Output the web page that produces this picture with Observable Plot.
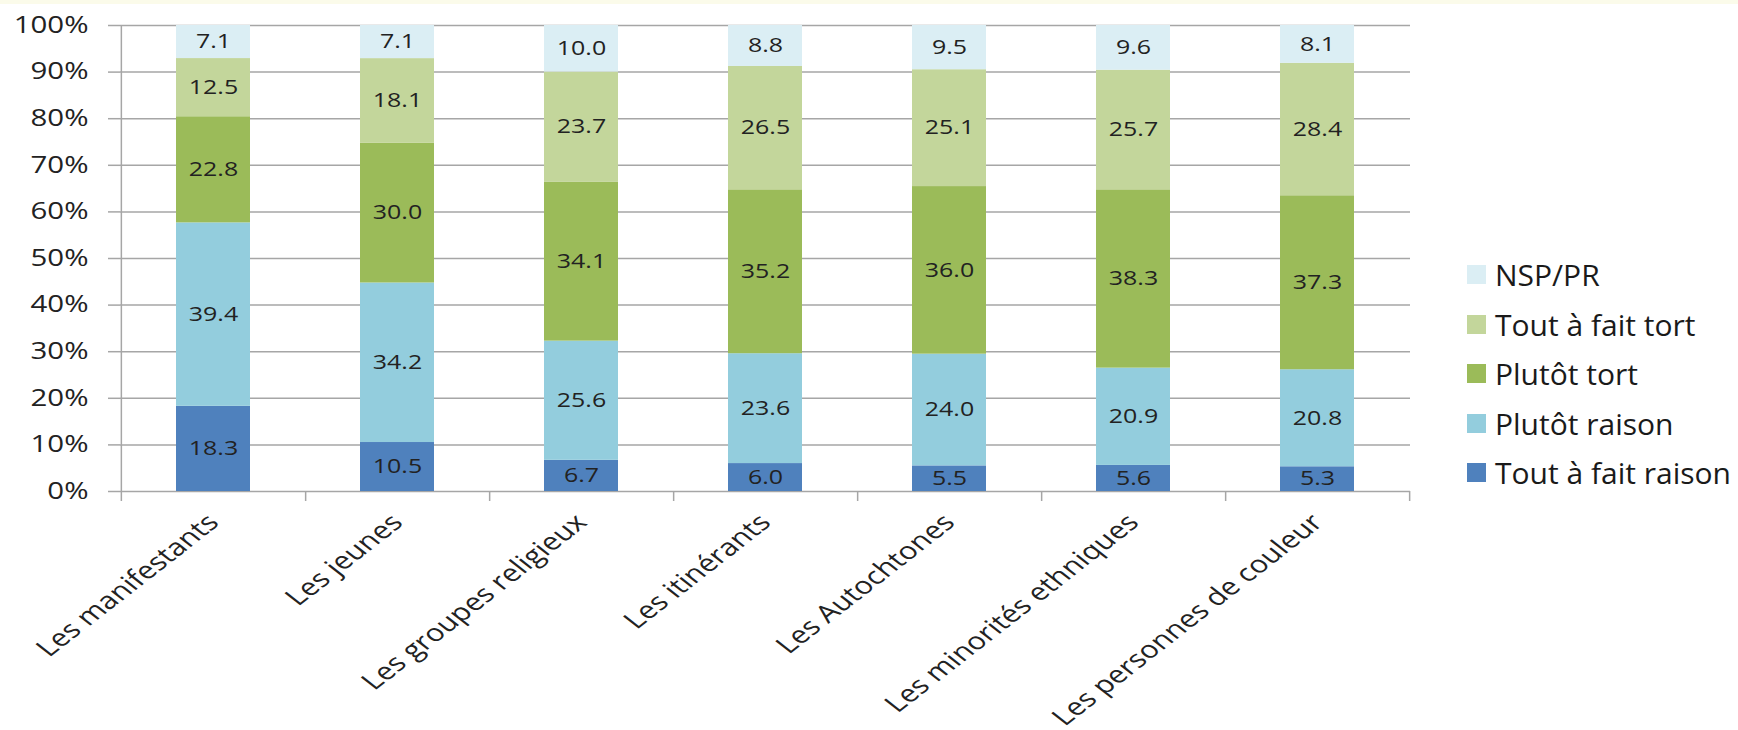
<!DOCTYPE html>
<html><head><meta charset="utf-8">
<script src="https://cdn.jsdelivr.net/npm/d3@7"></script>
<script src="https://cdn.jsdelivr.net/npm/@observablehq/plot@0.6"></script>
<style>
html,body{margin:0;padding:0;background:#fff;}
#wrap{position:relative;width:1738px;height:730px;font-family:"Open Sans",sans-serif;}
#topband{position:absolute;left:0;top:0;width:1738px;height:4px;background:#fbfbea;}
#legend{position:absolute;left:1467px;top:250px;}
.item{display:flex;align-items:center;height:49.5px;font-size:30px;color:#1a1a1a;white-space:nowrap;}
.sw{width:19px;height:19px;margin-right:9px;flex:none;}
svg text{font-family:"Open Sans",sans-serif;}
</style></head><body><div id="wrap"><div id="topband"></div></div>
<script>
const categories = ["Les manifestants","Les jeunes","Les groupes religieux","Les itinérants","Les Autochtones","Les minorités ethniques","Les personnes de couleur"];
const series = ["Tout à fait raison","Plutôt raison","Plutôt tort","Tout à fait tort","NSP/PR"];
const colors = ["#4f81bd","#93cddd","#9bbb59","#c3d69b","#dbeef4"];
const toutRaison   = [18.3, 10.5, 6.7, 6.0, 5.5, 5.6, 5.3];
const plutotRaison = [39.4, 34.2, 25.6, 23.6, 24.0, 20.9, 20.8];
const plutotTort   = [22.8, 30.0, 34.1, 35.2, 36.0, 38.3, 37.3];
const toutTort     = [12.5, 18.1, 23.7, 26.5, 25.1, 25.7, 28.4];
const nspPr        = [7.1, 7.1, 10.0, 8.8, 9.5, 9.6, 8.1];
const yTicks = [0, 0.1, 0.2, 0.3, 0.4, 0.5, 0.6, 0.7, 0.8, 0.9, 1];

const seriesValues = [toutRaison, plutotRaison, plutotTort, toutTort, nspPr];
const rows = [];
series.forEach((s, si) => categories.forEach((c, ci) => rows.push({category: c, series: s, value: seriesValues[si][ci]})));

const W = 1738, H = 730, mL = 120, mR = 328, mT = 25, mB = 239;
const step = (W - mL - mR) / categories.length;
const gridColor = "#a6a6a6";
const textColor = "#222";
const stackOpts = {x: "category", y: "value", z: "series", order: series, offset: "normalize"};

const chart = Plot.plot({
  width: W, height: H,
  marginLeft: mL, marginRight: mR, marginTop: mT, marginBottom: mB,
  style: {fontFamily: "Open Sans", background: "transparent", overflow: "visible"},
  x: {domain: categories, paddingInner: 0.6, paddingOuter: 0.3, axis: null},
  y: {domain: [0, 1], axis: null},
  color: {domain: series, range: colors},
  marks: [
    Plot.gridY(yTicks, {stroke: gridColor, strokeOpacity: 1, strokeWidth: 1.5}),
    Plot.axisY(yTicks, {tickFormat: d3.format(".0%"), tickSize: 12, tickPadding: 20, fontSize: 23, strokeWidth: 1.5, color: textColor, stroke: gridColor, label: null}),
    Plot.ruleX([categories[0]], {dx: -step / 2, stroke: gridColor, strokeWidth: 1.5, insetBottom: -10}),
    Plot.ruleX(categories, {x: d => d, dx: step / 2, y1: 0, y2: 0, stroke: gridColor, strokeWidth: 1.5, insetBottom: -10}),
    Plot.barY(rows, Plot.stackY({...stackOpts, fill: "series"})),
    Plot.text(rows, Plot.stackY({...stackOpts, text: d => d.value.toFixed(1), fontSize: 19.5, fill: textColor})),
    Plot.axisX({tickRotate: -45, tickSize: 0, tickPadding: 27, fontSize: 24, color: textColor, label: null})
  ]
});

// Horizontal stretch of text, as in the reference
const S = 1.28;
d3.select(chart).selectAll("text").each(function() {
  const t = this.getAttribute("transform");
  const m = t && t.match(/^\s*translate\(([^)]*)\)(.*)$/);
  if (m) this.setAttribute("transform", `translate(${m[1]}) scale(${S},1)${m[2]}`);
  else {
    const x = +this.getAttribute("x") || 0, y = +this.getAttribute("y") || 0;
    this.setAttribute("transform", `translate(${x},${y}) scale(${S},1) translate(${-x},${-y})`);
  }
});

const wrap = document.getElementById("wrap");
wrap.appendChild(chart);

const legend = document.createElement("div");
legend.id = "legend";
series.slice().reverse().forEach(s => {
  const item = document.createElement("div");
  item.className = "item";
  const sw = document.createElement("span");
  sw.className = "sw";
  sw.style.background = colors[series.indexOf(s)];
  const lab = document.createElement("span");
  lab.textContent = s;
  item.appendChild(sw); item.appendChild(lab);
  legend.appendChild(item);
});
wrap.appendChild(legend);
</script></body></html>
